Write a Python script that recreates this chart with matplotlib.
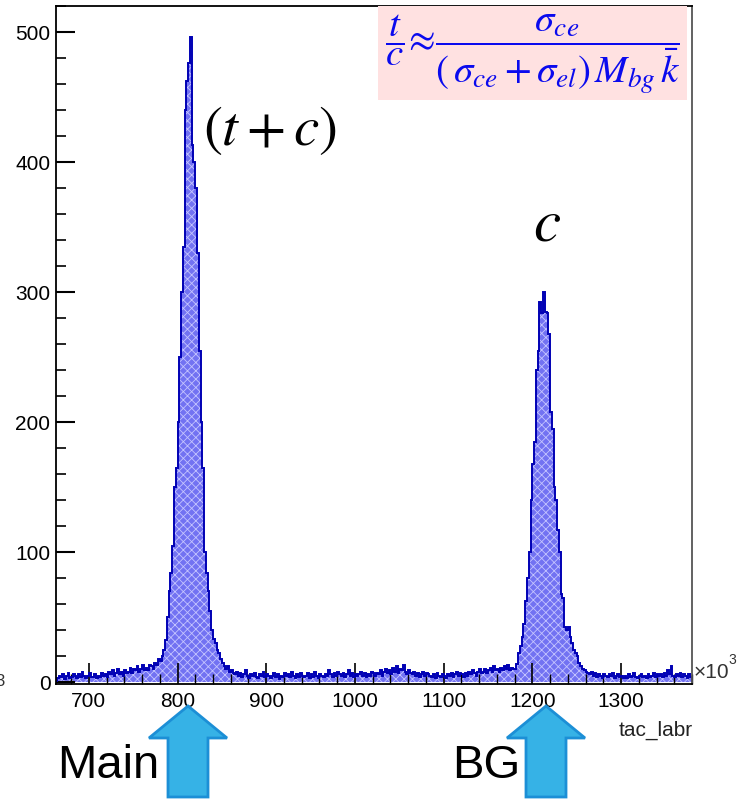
import numpy as np
import matplotlib
matplotlib.use("Agg")
import matplotlib.pyplot as plt
import matplotlib.patches as mpatches
from matplotlib.ticker import MultipleLocator

plt.rcParams["font.family"] = ["Liberation Sans Narrow", "Liberation Sans", "DejaVu Sans"]
plt.rcParams["mathtext.fontset"] = "stix"
plt.rcParams["hatch.linewidth"] = 0.6

# histogram of tac_labr, 2-unit bins starting at 664
bin_start = 664
bin_width = 2

bg_left = [3, 5, 4, 6, 2, 5, 7, 3, 4, 6,
           5, 3, 6, 4, 8, 5, 3, 5, 7, 4,
           4, 6, 3, 5, 4, 7, 5, 6, 4, 8,
           6, 9, 5, 7, 10, 6, 8, 5, 9, 7,
           8, 11, 7, 10, 9, 12, 8, 10, 13, 9,
           11, 9, 13, 12, 10, 15, 13, 18, 16, 20]
peak_main = [25, 32, 50, 70, 84, 105, 150, 165, 200, 250,
             300, 335, 440, 462, 476, 496, 413, 400, 380, 330,
             255, 200, 165, 100, 84, 70, 55, 40, 33, 30,
             25, 22, 18, 15, 12, 10, 12, 8, 9, 7]
bg_mid = [6, 8, 5, 7, 4, 6, 9, 5, 3, 6,
          5, 7, 4, 3, 6, 5, 8, 4, 6, 5,
          3, 5, 7, 4, 6, 2, 5, 4, 7, 5,
          6, 4, 8, 5, 3, 6, 4, 7, 5, 4,
          5, 7, 3, 6, 4, 8, 5, 3, 6, 5,
          4, 6, 5, 9, 6, 4, 7, 5, 8, 6,
          5, 7, 4, 6, 9, 5, 7, 4, 6, 5,
          6, 8, 5, 7, 4, 6, 5, 8, 7, 5,
          7, 6, 9, 5, 8, 10, 7, 9, 6, 11,
          8, 12, 7, 10, 9, 13, 8, 6, 9, 7,
          6, 8, 5, 7, 4, 6, 8, 5, 7, 6,
          5, 4, 6, 3, 7, 5, 4, 6, 5, 3,
          6, 5, 7, 4, 6, 8, 5, 7, 6, 4,
          7, 5, 8, 6, 9, 7, 5, 8, 10, 7,
          8, 10, 7, 9, 11, 8, 12, 9, 10, 8,
          11, 9, 12, 10, 13, 9, 11, 10, 10, 14]
peak_bg = [22, 28, 35, 45, 62, 80, 100, 140, 168, 185,
           240, 255, 292, 284, 300, 285, 284, 268, 208, 195,
           150, 140, 117, 100, 68, 65, 42, 40, 42, 35,
           30, 25, 22, 20, 15, 12, 10, 9, 8, 7]
bg_right = [6, 8, 5, 7, 4, 6, 5, 3, 6, 5,
            4, 6, 5, 7, 3, 5, 6, 4, 5, 3,
            5, 3, 6, 4, 5, 7, 4, 3, 5, 6,
            4, 5, 3, 6, 4, 5, 7, 4, 6, 5,
            6, 4, 7, 5, 9, 6, 12, 5, 4, 6,
            5, 7, 4, 6, 5, 3, 6, 4]

counts = np.array(bg_left + peak_main + bg_mid + peak_bg + bg_right, dtype=float)
edges = bin_start + bin_width * np.arange(len(counts) + 1)

x_ticks = [700, 800, 900, 1000, 1100, 1200, 1300]
x_tick_labels = ["700", "800", "900", "1000", "1100", "1200", "1300"]
y_ticks = [0, 100, 200, 300, 400, 500]

W, H = 743, 799
fig = plt.figure(figsize=(W / 100, H / 100), dpi=100)
ax = fig.add_axes([56 / W, 1 - 684 / H, 636 / W, 678 / H])

# dotted blue fill like the ROOT fill style, then the dark outline
ax.stairs(counts, edges, fill=True, facecolor="#7272f2", edgecolor="#c4c4ff",
          hatch="xxxx", lw=0, zorder=1)
ax.stairs(counts, edges, color="#0000b4", lw=1.4, zorder=2)

ax.set_xlim(663, 1380)
ax.set_ylim(-1.5, 520)
ax.set_xticks(x_ticks)
ax.set_xticklabels(x_tick_labels)
ax.set_yticks(y_ticks)
ax.xaxis.set_minor_locator(MultipleLocator(20))
ax.yaxis.set_minor_locator(MultipleLocator(20))
ax.tick_params(axis="x", which="major", direction="in", length=15, width=1.2,
               labelsize=15, pad=6, top=False)
ax.tick_params(axis="x", which="minor", direction="in", length=7, width=1.0, top=False)
ax.tick_params(axis="y", which="major", direction="in", length=14, width=1.5,
               labelsize=15, pad=4, right=False)
ax.tick_params(axis="y", which="minor", direction="in", length=7, width=1.2, right=False)
for s in ax.spines.values():
    s.set_linewidth(1.3)
ax.spines["right"].set_color("#555555")

# x10^3 at the end of the axis
fig.text(694 / W, 1 - 678 / H, "×10", fontsize=15, color="#333333", va="baseline")
fig.text(728 / W, 1 - 664 / H, "3", fontsize=10, color="#333333", va="baseline")
fig.text(0.0, 1 - 686 / H, "3", fontsize=12, color="#333333", ha="center", va="baseline")
fig.text(693 / W, 1 - 721 / H, "tac_labr", fontsize=15, color="#222222", ha="right", va="top")

# formula box
box = mpatches.Rectangle((378 / W, 1 - 100 / H), 309 / W, 94 / H,
                         transform=fig.transFigure, facecolor="#ffe1e1",
                         edgecolor="none", zorder=5)
fig.patches.append(box)
fig.text(533 / W, 1 - 54 / H,
         r"$\dfrac{t}{c}\!\approx\!\dfrac{\sigma_{ce}}{\left(\,\sigma_{ce}+\sigma_{el}\right)\,M_{bg}\,\bar{k}}$",
         fontsize=28, color="#0a0aee", ha="center", va="center", zorder=6)

fig.text(270 / W, 1 - 130 / H, r"$\left(t+c\right)$", fontsize=41,
         color="black", ha="center", va="center")
fig.text(547 / W, 1 - 225 / H, r"$c$", fontsize=44, color="black",
         ha="center", va="center")

# arrows and labels below the axis
for cx, label, lx in [(188, "Main", 57), (546, "BG", 452)]:
    arr = mpatches.FancyArrow(cx / 100, (H - 797) / 100, 0, (797 - 706) / 100,
                              width=0.40, head_width=0.78, head_length=0.32,
                              length_includes_head=True, transform=fig.dpi_scale_trans,
                              facecolor="#36b2e6", edgecolor="#1c8fd6", lw=2)
    fig.patches.append(arr)
    fig.text(lx / W, 1 - 778 / H, label, fontsize=34, family=["Liberation Sans", "DejaVu Sans"],
             color="black", ha="left", va="baseline")

fig.savefig("out.png", dpi=100)
